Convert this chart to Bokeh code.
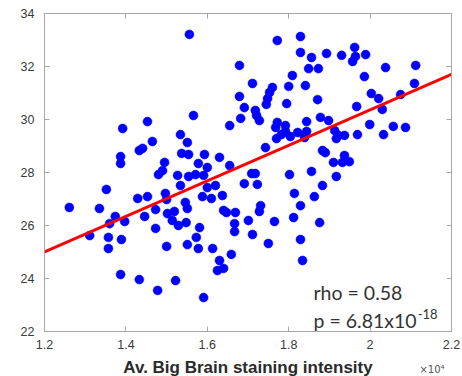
from bokeh.plotting import figure
from bokeh.models import (Range1d, FixedTicker, LinearAxis, Label, NumeralTickFormatter,
                          CustomJSTickFormatter)
from bokeh.embed import file_html
from bokeh.resources import INLINE

# ---- data (x in units of 10^4, as on the axis) ----
brain_intensity = [
    1.556, 1.772, 1.829, 1.829, 1.856, 1.893, 1.930, 1.962, 1.964, 1.957,
    1.989, 1.849, 1.873, 2.038, 2.112, 1.679, 1.809, 1.986, 1.711, 1.800,
    1.841, 1.760, 1.753, 1.748, 1.745, 2.109, 2.003, 2.021, 2.075, 1.679,
    1.691, 1.871, 1.795, 1.967, 2.030, 1.718, 1.721, 1.728, 1.682, 1.655,
    1.772, 1.768, 1.792, 1.792, 1.782, 1.770, 1.804, 1.822, 1.844, 1.844,
    1.839, 1.878, 1.898, 1.913, 1.922, 1.917, 1.937, 1.969, 1.999, 2.033,
    2.057, 2.087, 1.743, 1.883, 1.890, 1.910, 1.932, 1.949, 1.937, 1.566,
    1.392, 1.453, 1.465, 1.433, 1.441, 1.387, 1.387, 1.534, 1.551, 1.537,
    1.554, 1.495, 1.593, 1.630, 1.655, 1.578, 1.490, 1.480, 1.527, 1.554,
    1.571, 1.591, 1.600, 1.352, 1.534, 1.600, 1.620, 1.691, 1.723, 1.709,
    1.718, 1.802, 1.856, 1.917, 1.883, 1.814, 1.863, 1.497, 1.500, 1.588,
    1.610, 1.637, 1.546, 1.551, 1.502, 1.519, 1.514, 1.529, 1.548, 1.473,
    1.473, 1.640, 1.647, 1.669, 1.667, 1.701, 1.667, 1.711, 1.581, 1.573,
    1.551, 1.500, 1.578, 1.613, 1.659, 1.630, 1.625, 1.640, 1.522, 1.478,
    1.591, 1.261, 1.335, 1.374, 1.360, 1.397, 1.429, 1.453, 1.446, 1.311,
    1.357, 1.389, 1.357, 1.387, 1.433, 1.731, 1.728, 1.829, 1.765, 1.812,
    1.876, 1.750, 1.829, 1.834,
]
thickness = [
    33.21, 32.98, 33.13, 32.53, 32.34, 32.49, 32.42, 32.72, 32.38, 32.19,
    32.45, 31.92, 31.92, 31.96, 32.04, 32.04, 31.66, 31.62, 31.36, 31.25,
    31.28, 31.21, 31.02, 30.79, 30.57, 31.36, 30.98, 30.79, 30.94, 30.87,
    30.45, 30.75, 30.60, 30.49, 30.38, 30.34, 30.15, 29.96, 30.04, 29.77,
    29.89, 29.70, 29.77, 29.55, 29.43, 29.28, 29.36, 29.51, 29.92, 29.55,
    29.32, 30.08, 29.96, 29.58, 29.40, 29.28, 29.40, 29.43, 29.81, 29.43,
    29.74, 29.70, 28.94, 28.83, 28.75, 28.38, 28.38, 28.41, 28.64, 30.15,
    29.66, 29.92, 29.17, 28.83, 28.91, 28.60, 28.34, 29.43, 29.13, 28.72,
    28.68, 28.38, 28.68, 28.57, 28.26, 28.34, 28.07, 27.92, 27.89, 27.85,
    27.92, 27.89, 28.19, 27.36, 27.51, 27.43, 27.51, 27.58, 27.55, 27.96,
    27.96, 27.92, 28.04, 27.85, 27.51, 27.21, 27.09, 27.21, 26.98, 27.09,
    27.02, 27.13, 26.87, 26.64, 26.45, 26.53, 26.19, 26.00, 26.11, 26.60,
    25.89, 26.57, 26.49, 26.49, 26.07, 26.19, 25.77, 25.66, 25.92, 25.55,
    25.28, 25.21, 25.13, 25.13, 24.91, 24.68, 24.30, 24.38, 23.92, 23.55,
    23.28, 26.68, 26.64, 26.34, 26.07, 26.15, 27.02, 27.09, 26.34, 25.62,
    25.55, 25.47, 25.13, 24.15, 23.96, 26.75, 26.53, 26.75, 26.15, 26.30,
    26.11, 25.32, 25.47, 24.68,
]
fit_x = [1.2, 2.2]
fit_y = [25.0, 31.7]

x_ticks = [1.2, 1.4, 1.6, 1.8, 2.0, 2.2]
x_tick_labels = ["1.2", "1.4", "1.6", "1.8", "2", "2.2"]
y_ticks = [22, 24, 26, 28, 30, 32, 34]
y_tick_labels = ["22", "24", "26", "28", "30", "32", "34"]

x_label = "Av. Big Brain staining intensity"
x_mult = "\u00d710\u2074"
x_mult_at = [2.152]
rho_text = "rho = 0.58"
p_text = "p = 6.81x10"
p_exp = "-18"

AX = "#a6a6a6"
TXT = "#3a3a3a"
TICKFONT = "Liberation Sans"
ANN = "Lato"

p = figure(frame_width=407, frame_height=318,
           x_range=Range1d(1.2, 2.2), y_range=Range1d(22, 34),
           output_backend="svg", toolbar_location=None, title=None,
           min_border_left=44, min_border_right=9, min_border_top=13, min_border_bottom=30,
           background_fill_color="white", border_fill_color="white")
p.grid.visible = False
p.outline_line_color = AX

xa = p.xaxis[0]
xa.ticker = FixedTicker(ticks=x_ticks)
xa.formatter = NumeralTickFormatter(format="0.[0]")
xa.major_label_overrides = {t: l for t, l in zip(x_ticks, x_tick_labels)}
ya = p.yaxis[0]
ya.ticker = FixedTicker(ticks=y_ticks)
ya.major_label_overrides = {t: l for t, l in zip(y_ticks, y_tick_labels)}

for ax in (xa, ya):
    ax.axis_line_color = AX
    ax.major_tick_line_color = AX
    ax.major_tick_in = 5
    ax.major_tick_out = 0
    ax.minor_tick_line_color = None
    ax.major_label_text_font = TICKFONT
    ax.major_label_text_font_size = "12.5px"
    ax.major_label_text_color = TXT
xa.major_label_standoff = 8
ya.major_label_standoff = 10

top = LinearAxis(ticker=FixedTicker(ticks=x_ticks))
right = LinearAxis(ticker=FixedTicker(ticks=y_ticks))
for ax in (top, right):
    ax.axis_line_color = AX
    ax.major_tick_line_color = AX
    ax.major_tick_in = 5
    ax.major_tick_out = 0
    ax.minor_tick_line_color = None
    ax.major_label_text_color = None
    ax.major_label_text_font_size = "2px"
    ax.major_label_standoff = 0
p.add_layout(top, "above")
p.add_layout(right, "right")

# second row under the x axis: "x10^4" multiplier (as its tick label) and the axis title
mult_axis = LinearAxis(ticker=FixedTicker(ticks=x_mult_at),
                       formatter=CustomJSTickFormatter(args=dict(lbl=x_mult), code="return lbl"))
mult_axis.axis_line_color = None
mult_axis.major_tick_line_color = None
mult_axis.minor_tick_line_color = None
mult_axis.major_label_standoff = 6
mult_axis.major_label_text_font = "DejaVu Sans"
mult_axis.major_label_text_font_size = "10px"
mult_axis.major_label_text_color = "#555555"
mult_axis.axis_label = x_label
mult_axis.axis_label_text_font = TICKFONT
mult_axis.axis_label_text_font_style = "bold"
mult_axis.axis_label_text_font_size = "17px"
mult_axis.axis_label_text_color = "#2a2a2a"
mult_axis.axis_label_standoff = -20
p.add_layout(mult_axis, "below")

p.scatter(brain_intensity, thickness, size=9, fill_color="#0000ff", line_color="#0000ff",
          line_width=0.5)
p.line(fit_x, fit_y, line_color="#ff0000", line_width=3)

# annotations
p.add_layout(Label(x=1.861, y=23.48, text=rho_text, text_align="left", text_baseline="alphabetic",
                   text_font=ANN, text_font_size="19.5px", text_color="#333333"))
p.add_layout(Label(x=1.861, y=22.42, text=p_text, text_align="left", text_baseline="alphabetic",
                   text_font=ANN, text_font_size="19.5px", text_color="#333333"))
p.add_layout(Label(x=2.117, y=22.66, text=p_exp, text_align="left", text_baseline="alphabetic",
                   text_font=ANN, text_font_size="13px", text_color="#333333"))

open("out.html", "w").write(file_html(p, INLINE))
